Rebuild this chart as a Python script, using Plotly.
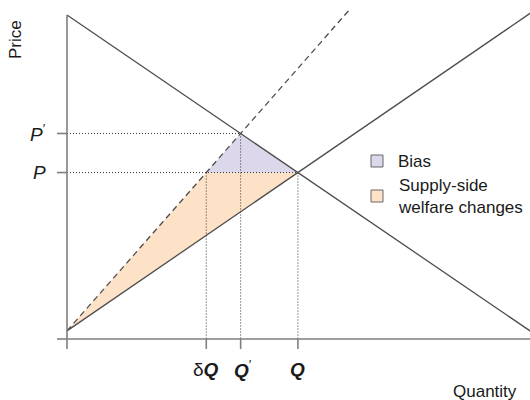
import plotly.graph_objects as go

# ---- data (economic units) ----
demand_q = [0.0, 10.0]
demand_p = [10.0, 0.25]
supply_q = [0.0, 10.0]
supply_p = [0.25, 10.05]
biased_q = [0.0, 6.13]
biased_p = [0.25, 10.21]
axis_q = [0.0, 10.0]
axis_p = [0.0, 10.0]
x_tick_labels = ["", "δ<b><i>Q</i></b>", "<b><i>Q</i></b><sup>′</sup>", "<b><i>Q</i></b>"]
y_tick_labels = ["", "<i>P</i>", "<i>P</i><sup>′</sup>"]
legend_labels = ["Bias", "Supply-side<br>welfare changes"]
fill_colors = ["#dcd7ea", "#fde2c8"]
x_title = "Quantity"
y_title = "Price"


def line_fn(q, p):
    s = (p[1] - p[0]) / (q[1] - q[0])
    return p[0], s


dA, dS = line_fn(demand_q, demand_p)
sA, sS = line_fn(supply_q, supply_p)
bA, bS = line_fn(biased_q, biased_p)

Q = (dA - sA) / (sS - dS)
P = sA + sS * Q
Qp = (dA - bA) / (bS - dS)
Pp = bA + bS * Qp
dQ = (P - bA) / bS

FONT = "Liberation Sans, Arial, sans-serif"
LINE = "#4d4d4d"
AXIS = "#7f7f7f"
TXT = "#1a1a1a"

fig = go.Figure()

# shaded regions
fig.add_trace(go.Scatter(x=[0, dQ, Q, 0], y=[sA, P, P, sA], fill="toself",
                         fillcolor=fill_colors[1], line=dict(width=0), mode="lines",
                         hoverinfo="skip", showlegend=False))
fig.add_trace(go.Scatter(x=[dQ, Qp, Q, dQ], y=[P, Pp, P, P], fill="toself",
                         fillcolor=fill_colors[0], line=dict(width=0), mode="lines",
                         hoverinfo="skip", showlegend=False))

# dotted guides
dot = dict(color="#333333", width=1, dash="1px,2px")
for xs, ys in [([0, Qp], [Pp, Pp]), ([0, Q], [P, P]),
               ([dQ, dQ], [P, 0]), ([Qp, Qp], [Pp, 0]), ([Q, Q], [P, 0])]:
    fig.add_trace(go.Scatter(x=xs, y=ys, mode="lines", line=dot,
                             hoverinfo="skip", showlegend=False))

# curves
fig.add_trace(go.Scatter(x=demand_q, y=demand_p, mode="lines",
                         line=dict(color=LINE, width=1.3), showlegend=False))
fig.add_trace(go.Scatter(x=supply_q, y=supply_p, mode="lines",
                         line=dict(color=LINE, width=1.3), showlegend=False))
fig.add_trace(go.Scatter(x=biased_q, y=biased_p, mode="lines",
                         line=dict(color=LINE, width=1.3, dash="6px,4px"), showlegend=False))

# axes lines
fig.add_trace(go.Scatter(x=axis_q, y=[0, 0], mode="lines",
                         line=dict(color=AXIS, width=1.6), showlegend=False))
fig.add_trace(go.Scatter(x=[0, 0], y=axis_p, mode="lines",
                         line=dict(color=AXIS, width=1.6), showlegend=False))

# ticks
x_ticks = [0, dQ, Qp, Q]
y_ticks = [0, P, Pp]
for xv in x_ticks:
    fig.add_shape(type="line", xref="x", yref="y", x0=xv, x1=xv,
                  ysizemode="pixel", yanchor=0, y0=0, y1=-10,
                  line=dict(color=AXIS, width=1.6))
for yv in y_ticks:
    fig.add_shape(type="line", xref="x", yref="y", y0=yv, y1=yv,
                  xsizemode="pixel", xanchor=0, x0=0, x1=-10,
                  line=dict(color=AXIS, width=1.6))

annos = []
x_shift = [0, 0, 2, 0]
for xv, lab, sh in zip(x_ticks, x_tick_labels, x_shift):
    if lab:
        annos.append(dict(x=xv, y=0, xref="x", yref="y", text=lab, showarrow=False,
                          yanchor="middle", xanchor="center", yshift=-30, xshift=sh,
                          font=dict(size=19, color=TXT, family=FONT)))
for yv, lab in zip(y_ticks, y_tick_labels):
    if lab:
        annos.append(dict(x=0, y=yv, xref="x", yref="y", text=lab, showarrow=False,
                          yanchor="middle", xanchor="right", xshift=-19,
                          font=dict(size=19, color=TXT, family=FONT)))

# axis titles
annos.append(dict(x=485 / 530, y=1 - 391 / 400, xref="paper", yref="paper", text=x_title,
                  showarrow=False, xanchor="center", yanchor="middle",
                  font=dict(size=17, color=TXT, family=FONT)))
annos.append(dict(x=16 / 530, y=1 - 40 / 400, xref="paper", yref="paper", text=y_title,
                  showarrow=False, xanchor="center", yanchor="middle", textangle=-90,
                  font=dict(size=17, color=TXT, family=FONT)))

# legend (manual)
leg_y = [161, 196]
for lab, col, cy in zip(legend_labels, fill_colors, leg_y):
    fig.add_shape(type="rect", xref="paper", yref="paper",
                  x0=371 / 530, x1=383 / 530, y0=1 - (cy - 6) / 400, y1=1 - (cy + 6) / 400,
                  fillcolor=col, line=dict(color="#666666", width=1))
    annos.append(dict(x=396 / 530, y=1 - cy / 400, xref="paper", yref="paper", text=lab,
                      showarrow=False, xanchor="left", yanchor="middle", align="left",
                      font=dict(size=17, color=TXT, family=FONT)))

fig.update_layout(
    width=530, height=400,
    margin=dict(l=0, r=0, t=0, b=0),
    paper_bgcolor="white", plot_bgcolor="white",
    xaxis=dict(range=[-67 / 46.3, 463 / 46.3], visible=False, fixedrange=True),
    yaxis=dict(range=[-61 / 32.4, 339 / 32.4], visible=False, fixedrange=True),
    annotations=annos,
    showlegend=False,
)

fig.write_html("out.html")
